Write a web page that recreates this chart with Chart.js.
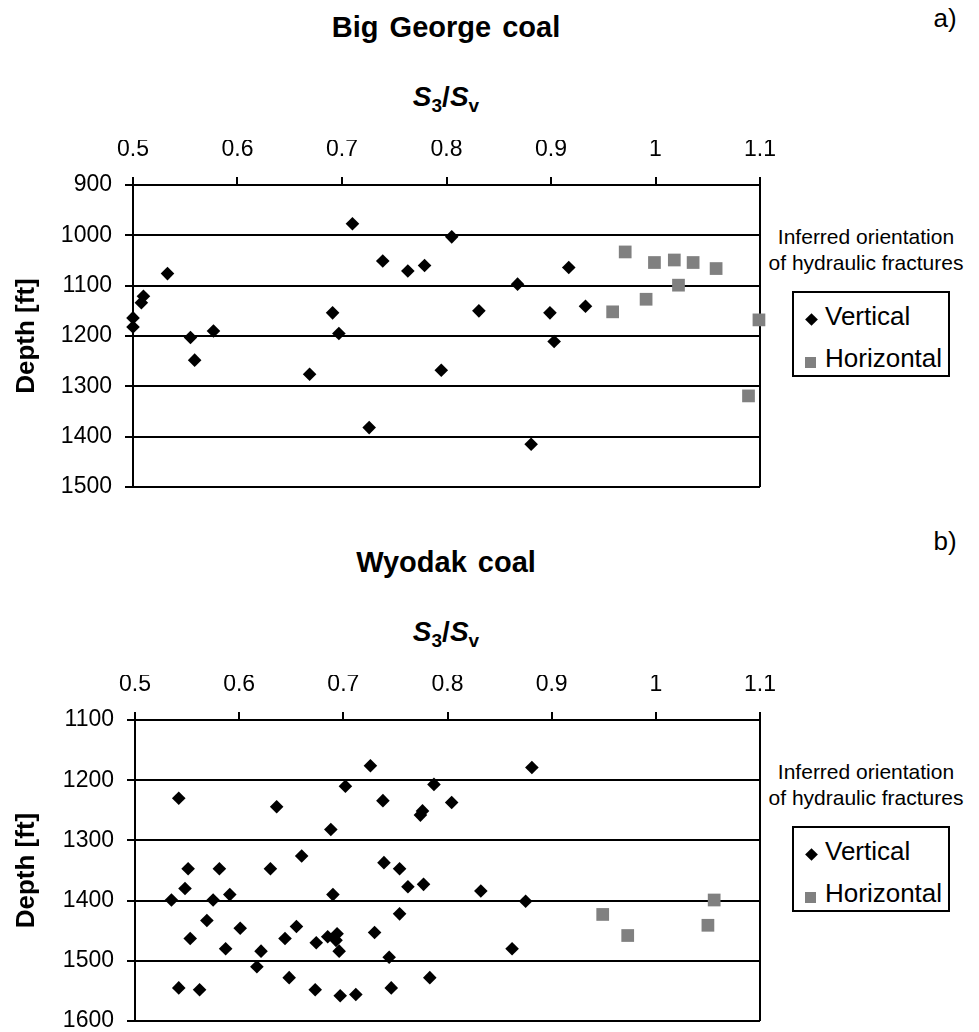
<!DOCTYPE html>
<html>
<head>
<meta charset="utf-8">
<script src="https://cdn.jsdelivr.net/npm/chart.js@4.4.1/dist/chart.umd.min.js"></script>
<style>
  body { margin: 0; background: #fff; font-family: 'Liberation Sans', Arial, sans-serif; color: #000; }
  #page { position: relative; width: 979px; height: 1032px; overflow: hidden; }
  .box { position: absolute; }
  .c { position: absolute; transform: translate(-50%, -50%); white-space: nowrap; }
  .title { font-size: 29px; font-weight: bold; word-spacing: 3px; }
  .tag { font-size: 26px; }
  .axt { font-size: 28px; font-weight: bold; }
  .axt sub { font-size: 19px; }
  .note { font-size: 21px; text-align: center; line-height: 26px; }
  .legend { position: absolute; border: 2px solid #000; box-sizing: border-box; width: 158px; height: 86px; font-size: 26px; }
  .legend .row { position: absolute; height: 30px; line-height: 30px; }
  .dia { position: absolute; width: 9px; height: 9px; background: #000; transform: rotate(45deg); }
  .sq { position: absolute; width: 11px; height: 11px; background: #808080; }
</style>
</head>
<body>
<div id="page">
  <!-- panel a -->
  <div class="c title" style="left:446px; top:27px;">Big George coal</div>
  <div class="c tag" style="left:945px; top:18px;">a)</div>
  <div class="c axt" style="left:446px; top:99px;"><i>S</i><sub>3</sub>/<i>S</i><sub>v</sub></div>
  <div class="c note" style="left:866px; top:250px;">Inferred orientation<br>of hydraulic fractures</div>
  <div class="legend" style="left:792px; top:291px;">
    <div class="dia" style="left:13px; top:22px;"></div><div class="row" style="left:31px; top:8px;">Vertical</div>
    <div class="sq" style="left:11px; top:64px;"></div><div class="row" style="left:31px; top:50px;">Horizontal</div>
  </div>
  <div class="box" style="left:0; top:0; width:979px; height:500px;"><canvas id="chartA"></canvas></div>

  <!-- panel b -->
  <div class="c title" style="left:446px; top:562px;">Wyodak coal</div>
  <div class="c tag" style="left:945px; top:541px;">b)</div>
  <div class="c axt" style="left:446px; top:634px;"><i>S</i><sub>3</sub>/<i>S</i><sub>v</sub></div>
  <div class="c note" style="left:866px; top:785px;">Inferred orientation<br>of hydraulic fractures</div>
  <div class="legend" style="left:792px; top:826px;">
    <div class="dia" style="left:13px; top:22px;"></div><div class="row" style="left:31px; top:8px;">Vertical</div>
    <div class="sq" style="left:11px; top:64px;"></div><div class="row" style="left:31px; top:50px;">Horizontal</div>
  </div>
  <div class="box" style="left:0; top:520px; width:979px; height:512px;"><canvas id="chartB"></canvas></div>
</div>

<script>
/* ── data ─────────────────────────────────────────────────────── */
const xTickLabels = ['0.5', '0.6', '0.7', '0.8', '0.9', '1', '1.1'];
const depthTicksA = [900, 1000, 1100, 1200, 1300, 1400, 1500];
const depthTicksB = [1100, 1200, 1300, 1400, 1500, 1600];

// Big George coal
const bgVertS     = [0.710, 0.739, 0.763, 0.779, 0.533, 0.510, 0.508, 0.500, 0.500, 0.555, 0.559, 0.577, 0.691,
                     0.697, 0.669, 0.726, 0.795, 0.805, 0.917, 0.868, 0.831, 0.899, 0.933, 0.903, 0.881];
const bgVertDepth = [977, 1051, 1071, 1060, 1076, 1121, 1134, 1164, 1182, 1203, 1248, 1190, 1154,
                     1195, 1276, 1382, 1268, 1003, 1064, 1097, 1150, 1154, 1141, 1211, 1415];
const bgHorzS     = [0.971, 0.999, 1.018, 1.036, 1.058, 1.022, 0.991, 0.959, 1.099, 1.089];
const bgHorzDepth = [1033, 1054, 1049, 1054, 1066, 1099, 1127, 1152, 1168, 1319];

// Wyodak coal
const wyVertS     = [0.542, 0.636, 0.702, 0.726, 0.738, 0.787, 0.774, 0.776, 0.688, 0.660,
                     0.551, 0.581, 0.630, 0.739, 0.754, 0.548, 0.535, 0.575, 0.591, 0.690,
                     0.762, 0.777, 0.569, 0.601, 0.553, 0.655, 0.644, 0.674, 0.685, 0.694,
                     0.693, 0.696, 0.730, 0.754, 0.587, 0.621, 0.617, 0.744, 0.542, 0.562,
                     0.648, 0.673, 0.697, 0.712, 0.746, 0.783, 0.881, 0.804, 0.832, 0.875, 0.862];
const wyVertDepth = [1230, 1244, 1210, 1176, 1234, 1207, 1258, 1251, 1282, 1326,
                     1347, 1347, 1347, 1337, 1347, 1380, 1399, 1399, 1390, 1390,
                     1377, 1373, 1433, 1446, 1463, 1443, 1463, 1470, 1460, 1455,
                     1466, 1484, 1453, 1422, 1480, 1484, 1510, 1494, 1545, 1548,
                     1528, 1548, 1558, 1556, 1545, 1528, 1179, 1237, 1384, 1401, 1480];
const wyHorzS     = [0.949, 0.973, 1.056, 1.050];
const wyHorzDepth = [1423, 1458, 1399, 1441];

/* ── helpers ──────────────────────────────────────────────────── */
Chart.defaults.font.family = "'Liberation Sans', Arial, sans-serif";
Chart.defaults.color = '#000';

const pts = (xs, ys) => xs.map((x, i) => ({ x, y: ys[i] }));

function makeChart(id, vS, vD, hS, hD, yTicks, layout) {
    const ctx = document.getElementById(id).getContext('2d');
    return new Chart(ctx, {
        type: 'scatter',
        data: {
            datasets: [
                {
                    label: 'Vertical',
                    data: pts(vS, vD),
                    pointStyle: 'rectRot',
                    pointRadius: 6.8,
                    backgroundColor: '#000',
                    borderColor: '#000',
                    borderWidth: 0,
                    clip: false,
                },
                {
                    label: 'Horizontal',
                    data: pts(hS, hD),
                    pointStyle: 'rect',
                    pointRadius: 9,
                    backgroundColor: '#808080',
                    borderColor: '#808080',
                    borderWidth: 0,
                    clip: false,
                },
            ]
        },
        options: {
            responsive: true,
            maintainAspectRatio: false,
            animation: false,
            layout: { padding: layout.padding },
            plugins: { legend: { display: false }, tooltip: { enabled: false } },
            scales: {
                x: {
                    type: 'linear',
                    position: 'top',
                    min: 0.5, max: 1.1,
                    afterBuildTicks: s => { s.ticks = xTickLabels.map(t => ({ value: parseFloat(t) })); },
                    afterFit: s => { s.height = layout.xHeight; s.paddingLeft = 0; s.paddingRight = 0; },
                    ticks: {
                        font: { size: 23 },
                        padding: 14,
                        maxRotation: 0,
                        callback: (v, i) => xTickLabels[i],
                    },
                    grid: {
                        color: c => (c.tick && Math.abs(c.tick.value - 1.1) < 1e-6) ? '#000' : 'rgba(0,0,0,0)',
                        tickColor: '#000',
                        lineWidth: 2,
                        tickLength: 8,
                    },
                    border: { display: true, color: '#000', width: 2 },
                },
                y: {
                    type: 'linear',
                    reverse: true,
                    min: yTicks[0], max: yTicks[yTicks.length - 1],
                    afterBuildTicks: s => { s.ticks = yTicks.map(v => ({ value: v })); },
                    afterFit: s => { s.width = layout.yWidth; s.paddingTop = 0; s.paddingBottom = 0; },
                    ticks: {
                        font: { size: 23 },
                        padding: 13,
                        callback: v => String(v),
                    },
                    grid: { color: '#000', lineWidth: 2, tickLength: 8 },
                    border: { display: true, color: '#000', width: 2 },
                    title: {
                        display: true,
                        text: 'Depth [ft]',
                        font: { size: 26, weight: 'bold' },
                        padding: { top: 11, bottom: 0 },
                    },
                },
            }
        }
    });
}

/* ── panel a: Big George coal ─────────────────────────────────── */
makeChart('chartA', bgVertS, bgVertDepth, bgHorzS, bgHorzDepth, depthTicksA, {
    padding: { left: 0, right: 219, top: 140, bottom: 13 },
    xHeight: 45,
    yWidth: 133,
});

/* ── panel b: Wyodak coal ─────────────────────────────────────── */
makeChart('chartB', wyVertS, wyVertDepth, wyHorzS, wyHorzDepth, depthTicksB, {
    padding: { left: 0, right: 219, top: 155, bottom: 11 },
    xHeight: 45,
    yWidth: 135,
});
</script>
</body>
</html>
